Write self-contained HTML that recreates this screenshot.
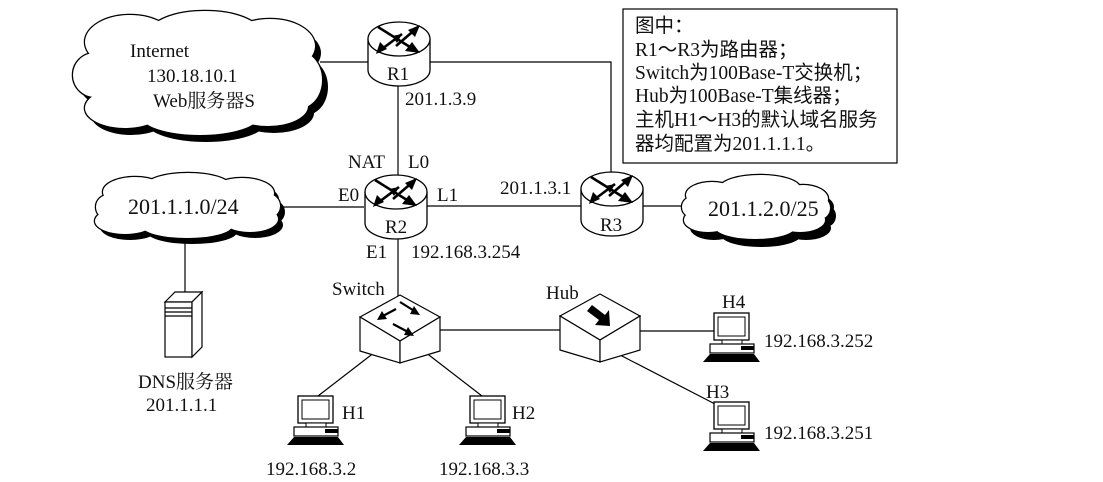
<!DOCTYPE html>
<html><head><meta charset="utf-8"><style>
html,body{margin:0;padding:0;background:#fff;}
svg{display:block;}
text{font-family:"Liberation Serif","Noto Serif CJK SC","Noto Sans CJK SC",serif;font-size:19px;fill:#111;}
.b{font-family:"Liberation Serif","Noto Sans CJK SC",sans-serif;font-size:19.5px;}
.c{font-size:22px;}
</style></head><body>
<svg width="1103" height="482" viewBox="0 0 1103 482" xmlns="http://www.w3.org/2000/svg">
<defs>
<g id="router">
<path d="M0,17 L0,48 A31,16 0 0 0 62,48 L62,17" fill="#fff" stroke="#000" stroke-width="1.3"/>
<ellipse cx="31" cy="17" rx="31" ry="17" fill="#fff" stroke="#000" stroke-width="1.3"/>
<g stroke="#000" stroke-width="2.6" fill="none">
<line x1="10" y1="5" x2="50" y2="30"/><line x1="28" y1="24" x2="50" y2="5"/><line x1="10" y1="30" x2="34" y2="12"/>
</g>
<polygon points="52,31 37,29 44,20" fill="#000"/>
<polygon points="52,3 47,15 40,8" fill="#000"/>
<polygon points="8,32 12,20 19,27" fill="#000"/>
<polygon points="34,12 24,14 29,21" fill="#000"/>
</g>
<g id="box">
<polygon points="0,24 40,2 80,24 40,48" fill="#fff" stroke="#000" stroke-width="1.2"/>
<polygon points="0,24 40,48 40,70 0,58" fill="#fff" stroke="#000" stroke-width="1.2"/>
<polygon points="80,24 40,48 40,70 80,58" fill="#fff" stroke="#000" stroke-width="1.2"/>
</g>
<g id="pc">
<rect x="0" y="0" width="35" height="27" fill="#fff" stroke="#000" stroke-width="1.3"/>
<rect x="4" y="4" width="27" height="19" fill="#fff" stroke="#000" stroke-width="1"/>
<rect x="8" y="27" width="20" height="4" fill="#fff" stroke="#000" stroke-width="1"/>
<rect x="-4" y="31" width="44" height="9" fill="#fff" stroke="#000" stroke-width="1.2"/>
<rect x="27" y="33" width="13" height="4" fill="#000"/>
<polygon points="-4,41 40,41 46,49 -11,49" fill="#000"/>
</g>
</defs>

<g stroke="#000" stroke-width="1.2" fill="none">
<line x1="320" y1="62" x2="368" y2="62"/>
<polyline points="430,62 611,62 611,178"/>
<line x1="398" y1="84" x2="398" y2="178"/>
<line x1="280" y1="207" x2="364" y2="207"/>
<line x1="427" y1="206" x2="582" y2="206"/>
<line x1="640" y1="206" x2="685" y2="206"/>
<line x1="185" y1="235" x2="185" y2="293"/>
<line x1="398" y1="236" x2="398" y2="296"/>
<line x1="440" y1="330" x2="560" y2="330"/>
<line x1="640" y1="331" x2="715" y2="331"/>
<line x1="620" y1="355" x2="715" y2="404"/>
<line x1="375" y1="352" x2="318" y2="396"/>
<line x1="425" y1="352" x2="482" y2="396"/>
</g>

<g transform="translate(6,7)" fill="#000">
<ellipse cx="198" cy="75" rx="112" ry="48"/><ellipse cx="130" cy="42" rx="45" ry="27"/><ellipse cx="205" cy="33" rx="55" ry="22"/><ellipse cx="270" cy="46" rx="45" ry="27"/><ellipse cx="300" cy="80" rx="22" ry="28"/><ellipse cx="95" cy="75" rx="22" ry="22"/><ellipse cx="125" cy="108" rx="40" ry="20"/><ellipse cx="200" cy="115" rx="60" ry="20"/><ellipse cx="268" cy="106" rx="40" ry="20"/>
</g>
<g fill="#000" stroke="#000" stroke-width="2.5">
<ellipse cx="198" cy="75" rx="112" ry="48"/><ellipse cx="130" cy="42" rx="45" ry="27"/><ellipse cx="205" cy="33" rx="55" ry="22"/><ellipse cx="270" cy="46" rx="45" ry="27"/><ellipse cx="300" cy="80" rx="22" ry="28"/><ellipse cx="95" cy="75" rx="22" ry="22"/><ellipse cx="125" cy="108" rx="40" ry="20"/><ellipse cx="200" cy="115" rx="60" ry="20"/><ellipse cx="268" cy="106" rx="40" ry="20"/>
</g>
<g fill="#fff">
<ellipse cx="198" cy="75" rx="112" ry="48"/><ellipse cx="130" cy="42" rx="45" ry="27"/><ellipse cx="205" cy="33" rx="55" ry="22"/><ellipse cx="270" cy="46" rx="45" ry="27"/><ellipse cx="300" cy="80" rx="22" ry="28"/><ellipse cx="95" cy="75" rx="22" ry="22"/><ellipse cx="125" cy="108" rx="40" ry="20"/><ellipse cx="200" cy="115" rx="60" ry="20"/><ellipse cx="268" cy="106" rx="40" ry="20"/>
</g>

<g transform="translate(5,6)" fill="#000">
<ellipse cx="187" cy="206" rx="85" ry="24"/><ellipse cx="135" cy="192" rx="32" ry="15"/><ellipse cx="188" cy="186" rx="42" ry="13"/><ellipse cx="242" cy="193" rx="32" ry="15"/><ellipse cx="125" cy="221" rx="30" ry="13"/><ellipse cx="187" cy="226" rx="45" ry="12"/><ellipse cx="250" cy="219" rx="28" ry="13"/><ellipse cx="108" cy="207" rx="12" ry="12"/><ellipse cx="268" cy="206" rx="12" ry="12"/>
</g>
<g fill="#000" stroke="#000" stroke-width="2.5">
<ellipse cx="187" cy="206" rx="85" ry="24"/><ellipse cx="135" cy="192" rx="32" ry="15"/><ellipse cx="188" cy="186" rx="42" ry="13"/><ellipse cx="242" cy="193" rx="32" ry="15"/><ellipse cx="125" cy="221" rx="30" ry="13"/><ellipse cx="187" cy="226" rx="45" ry="12"/><ellipse cx="250" cy="219" rx="28" ry="13"/><ellipse cx="108" cy="207" rx="12" ry="12"/><ellipse cx="268" cy="206" rx="12" ry="12"/>
</g>
<g fill="#fff">
<ellipse cx="187" cy="206" rx="85" ry="24"/><ellipse cx="135" cy="192" rx="32" ry="15"/><ellipse cx="188" cy="186" rx="42" ry="13"/><ellipse cx="242" cy="193" rx="32" ry="15"/><ellipse cx="125" cy="221" rx="30" ry="13"/><ellipse cx="187" cy="226" rx="45" ry="12"/><ellipse cx="250" cy="219" rx="28" ry="13"/><ellipse cx="108" cy="207" rx="12" ry="12"/><ellipse cx="268" cy="206" rx="12" ry="12"/>
</g>

<g transform="translate(6,8)" fill="#000">
<ellipse cx="755" cy="207" rx="68" ry="23"/><ellipse cx="712" cy="195" rx="26" ry="13"/><ellipse cx="760" cy="188" rx="40" ry="13"/><ellipse cx="803" cy="199" rx="25" ry="14"/><ellipse cx="708" cy="220" rx="24" ry="12"/><ellipse cx="755" cy="227" rx="40" ry="12"/><ellipse cx="800" cy="220" rx="25" ry="12"/><ellipse cx="692" cy="207" rx="10" ry="10"/><ellipse cx="820" cy="208" rx="10" ry="11"/>
</g>
<g fill="#000" stroke="#000" stroke-width="2.5">
<ellipse cx="755" cy="207" rx="68" ry="23"/><ellipse cx="712" cy="195" rx="26" ry="13"/><ellipse cx="760" cy="188" rx="40" ry="13"/><ellipse cx="803" cy="199" rx="25" ry="14"/><ellipse cx="708" cy="220" rx="24" ry="12"/><ellipse cx="755" cy="227" rx="40" ry="12"/><ellipse cx="800" cy="220" rx="25" ry="12"/><ellipse cx="692" cy="207" rx="10" ry="10"/><ellipse cx="820" cy="208" rx="10" ry="11"/>
</g>
<g fill="#fff">
<ellipse cx="755" cy="207" rx="68" ry="23"/><ellipse cx="712" cy="195" rx="26" ry="13"/><ellipse cx="760" cy="188" rx="40" ry="13"/><ellipse cx="803" cy="199" rx="25" ry="14"/><ellipse cx="708" cy="220" rx="24" ry="12"/><ellipse cx="755" cy="227" rx="40" ry="12"/><ellipse cx="800" cy="220" rx="25" ry="12"/><ellipse cx="692" cy="207" rx="10" ry="10"/><ellipse cx="820" cy="208" rx="10" ry="11"/>
</g>

<use href="#router" x="368" y="22"/>
<use href="#router" x="365" y="175"/>
<use href="#router" x="581" y="172"/>

<rect x="623" y="9" width="274" height="154" fill="#fff" stroke="#000" stroke-width="1.2"/>
<text class="b" x="635" y="32">图中：</text>
<text class="b" x="635" y="56">R1～R3为路由器；</text>
<text class="b" x="635" y="79">Switch为100Base-T交换机；</text>
<text class="b" x="635" y="102">Hub为100Base-T集线器；</text>
<text class="b" x="635" y="126">主机H1～H3的默认域名服务</text>
<text class="b" x="635" y="150">器均配置为201.1.1.1。</text>

<g stroke="#000" stroke-width="1.2" fill="#fff">
<polygon points="165,302 175,292 202,292 192,302"/>
<rect x="165" y="302" width="27" height="55"/>
<polygon points="192,302 202,292 202,347 192,357"/>
<line x1="165" y1="308" x2="192" y2="308"/><line x1="165" y1="312" x2="192" y2="312"/><line x1="165" y1="316" x2="192" y2="316"/>
</g>

<use href="#box" x="360" y="293"/>
<use href="#box" x="560" y="292"/>
<g stroke="#000" stroke-width="2.2" fill="none">
<line x1="381" y1="317" x2="396" y2="309"/><line x1="400" y1="302" x2="416" y2="312"/><line x1="393" y1="324" x2="410" y2="333"/>
</g>
<polygon points="377,320 382,311 387,319" fill="#000"/>
<polygon points="420,315 410,314 414,306" fill="#000"/>
<polygon points="414,336 404,335 408,327" fill="#000"/>
<polygon points="587,311 592,305 605,315 609,310 610,326 595,325 599,320" fill="#000"/>

<use href="#pc" x="298" y="396"/>
<use href="#pc" x="470" y="396"/>
<use href="#pc" x="714" y="313"/>
<use href="#pc" x="714" y="402"/>

<text x="130" y="57">Internet</text>
<text x="147" y="82">130.18.10.1</text>
<text x="153" y="107">Web服务器S</text>
<text x="387" y="80">R1</text>
<text x="405" y="105">201.1.3.9</text>
<text x="348" y="168">NAT</text>
<text x="408" y="168">L0</text>
<text x="338" y="201">E0</text>
<text x="437" y="201">L1</text>
<text x="385" y="233">R2</text>
<text x="366" y="258">E1</text>
<text x="411" y="258">192.168.3.254</text>
<text x="500" y="194">201.1.3.1</text>
<text x="600" y="231">R3</text>
<text class="c" x="128" y="214">201.1.1.0/24</text>
<text class="c" x="708" y="216">201.1.2.0/25</text>
<text x="138" y="388">DNS服务器</text>
<text x="146" y="411">201.1.1.1</text>
<text x="332" y="295">Switch</text>
<text x="546" y="299">Hub</text>
<text x="722" y="308">H4</text>
<text x="764" y="347">192.168.3.252</text>
<text x="706" y="398">H3</text>
<text x="764" y="439">192.168.3.251</text>
<text x="342" y="419">H1</text>
<text x="512" y="419">H2</text>
<text x="266" y="475">192.168.3.2</text>
<text x="439" y="475">192.168.3.3</text>
</svg>
</body></html>
